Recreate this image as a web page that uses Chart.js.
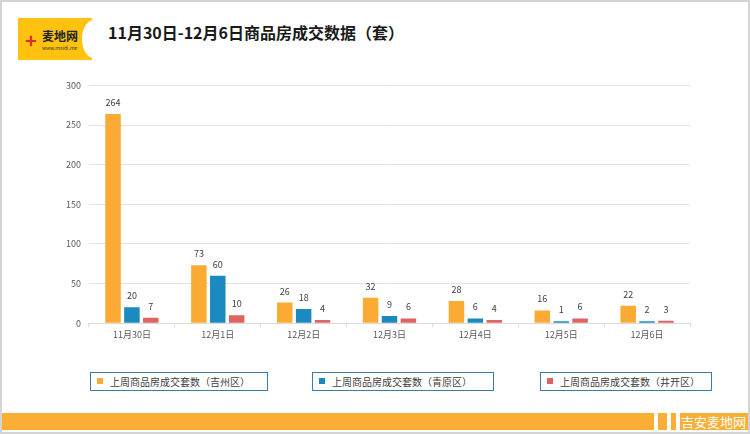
<!DOCTYPE html>
<html>
<head>
<meta charset="utf-8">
<script src="https://cdn.jsdelivr.net/npm/chart.js@4.4.1/dist/chart.umd.min.js"></script>
<style>
  html, body { margin: 0; padding: 0; }
  body { width: 750px; height: 434px; position: relative; overflow: hidden; background: #fff;
         font-family: "Noto Sans CJK SC", "Noto Sans", sans-serif; }
  .frame { position: absolute; left: 0; top: 0; width: 746px; height: 430px; border: 2px solid #d4d4d4; }
  .logo { position: absolute; left: 18px; top: 18px; width: 74px; height: 42px; background: #ffc20e; overflow: hidden; }
  .logo .cut { position: absolute; right: -14px; top: 2px; width: 24px; height: 38px; border-radius: 50%; background: #fff; }
  .logo .cross { position: absolute; left: 7px; top: 12px; color: #d8322a; font-size: 20px; font-weight: bold; line-height: 20px; }
  .logo .name { position: absolute; left: 24px; top: 11px; font-size: 12px; font-weight: bold; color: #222; line-height: 14px; }
  .logo .url { position: absolute; left: 24px; top: 27px; font-size: 5px; color: #333; line-height: 6px; }
  .title { position: absolute; left: 108px; top: 20px; font-size: 16px; font-weight: bold; color: #1a1a1a; }
  #wrap { position: absolute; left: 58px; top: 72px; width: 642px; height: 270px; }
  .legend { position: absolute; top: 372px; height: 19px; border: 1px solid #3a7ca5; box-sizing: border-box;
            font-size: 10px; color: #404040; line-height: 17px; }
  .legend i { position: absolute; left: 6px; top: 5px; width: 6px; height: 6px; }
  .legend span { position: absolute; left: 19px; top: 0; white-space: nowrap; }
  .band { position: absolute; left: 2px; top: 413px; width: 746px; height: 17px; background: #fbae36; }
  .stripe { position: absolute; top: 413px; width: 4px; height: 17px; background: #fff; }
  .brand { position: absolute; left: 681px; top: 413px; font-size: 13px; color: #fff; line-height: 17px; }
</style>
</head>
<body>
<div class="frame"></div>
<div class="logo"><div class="cut"></div><div class="cross">+</div><div class="name">麦地网</div><div class="url">www.maidi.me</div></div>
<div class="title">11月30日-12月6日商品房成交数据（套）</div>
<div id="wrap"><canvas id="chart"></canvas></div>
<div id="legends"></div>
<div class="band"></div>
<div class="stripe" style="left:654px"></div>
<div class="stripe" style="left:667px"></div>
<div class="stripe" style="left:676px"></div>
<div class="brand">吉安麦地网</div>
<script>
const days = ['11月30日', '12月1日', '12月2日', '12月3日', '12月4日', '12月5日', '12月6日'];
const jizhou = [264, 73, 26, 32, 28, 16, 22];
const qingyuan = [20, 60, 18, 9, 6, 1, 2];
const jingkai = [7, 10, 4, 6, 4, 6, 3];
const seriesNames = ['上周商品房成交套数（吉州区）', '上周商品房成交套数（青原区）', '上周商品房成交套数（井开区）'];
const colors = ['#fbaa33', '#1a8ac0', '#de6464'];
const yTicks = [0, 50, 100, 150, 200, 250, 300];

const legendPos = [[90, 178], [312, 182], [540, 172]];
const legends = document.getElementById('legends');
seriesNames.forEach((name, i) => {
  const d = document.createElement('div');
  d.className = 'legend';
  d.style.left = legendPos[i][0] + 'px';
  d.style.width = legendPos[i][1] + 'px';
  d.innerHTML = '<i style="background:' + colors[i] + '"></i><span>' + name + '</span>';
  legends.appendChild(d);
});

// value labels above each bar
const barLabels = {
  id: 'barLabels',
  afterDatasetsDraw(chart) {
    const ctx = chart.ctx;
    ctx.save();
    ctx.font = '9px "Noto Sans CJK SC", sans-serif';
    ctx.fillStyle = '#404040';
    ctx.textAlign = 'center';
    ctx.textBaseline = 'bottom';
    chart.data.datasets.forEach((ds, i) => {
      chart.getDatasetMeta(i).data.forEach((bar, j) => {
        ctx.fillText(ds.data[j], bar.x, bar.y - 7);
      });
    });
    ctx.restore();
  }
};

new Chart(document.getElementById('chart'), {
  type: 'bar',
  data: {
    labels: days,
    datasets: [
      { label: seriesNames[0], data: jizhou, backgroundColor: colors[0] },
      { label: seriesNames[1], data: qingyuan, backgroundColor: colors[1] },
      { label: seriesNames[2], data: jingkai, backgroundColor: colors[2] }
    ].map(ds => Object.assign(ds, { borderWidth: 0, minBarLength: 2,
                                     barPercentage: 0.82, categoryPercentage: 0.66 }))
  },
  plugins: [barLabels],
  options: {
    responsive: true,
    maintainAspectRatio: false,
    animation: false,
    layout: { padding: { top: 10, right: 10 } },
    plugins: { legend: { display: false }, tooltip: { enabled: false } },
    scales: {
      x: {
        grid: { display: true, drawOnChartArea: false, tickLength: 4, color: '#d9d9d9' },
        border: { color: '#d9d9d9' },
        ticks: { color: '#595959', font: { size: 9, family: '"Noto Sans CJK SC", sans-serif' }, padding: 2 }
      },
      y: {
        min: 0, max: 300,
        afterBuildTicks: axis => { axis.ticks = yTicks.map(v => ({ value: v })); },
        grid: { color: '#e3e3e3', drawTicks: false },
        border: { display: false },
        ticks: { color: '#595959', font: { size: 9, family: '"Noto Sans CJK SC", sans-serif' }, padding: 8 }
      }
    }
  }
});
</script>
</body>
</html>
